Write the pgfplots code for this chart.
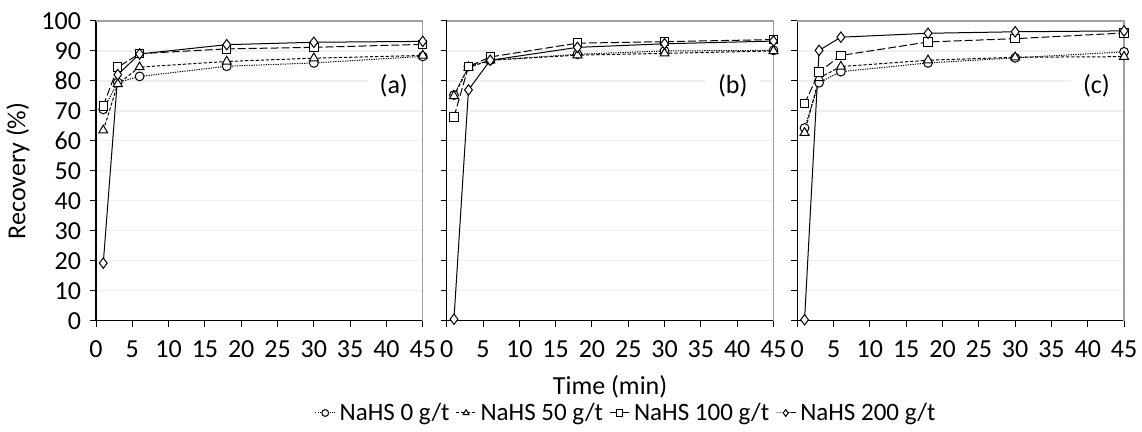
\documentclass[border=0pt]{standalone}
\usepackage{fontspec}
\setmainfont{Carlito}
\usepackage{pgfplots}
\pgfplotsset{compat=1.18}
\tikzset{pframe/.style={gray!75, line width=0.6pt}}
\begin{document}
\begin{tikzpicture}[font=\fontsize{13}{15}\selectfont]
\path[use as bounding box] (0,0) rectangle (571pt,216pt);
\pgfplotsset{
  panel/.style={
    scale only axis, width=163.4pt, height=149.85pt,
    anchor=south west,
    xmin=0, xmax=45, ymin=0, ymax=100,
    xtick={0,5,...,45}, ytick={0,10,...,100},
    axis x line*=bottom, axis y line*=left,
    axis line style={black, line width=0.6pt},
    tick align=outside, major tick length=3pt,
    tick style={black, line width=0.5pt},
    ymajorgrids, grid style={gray!12, line width=0.6pt},
    /pgf/number format/assume math mode=true,
    xticklabel style={yshift=-3.5pt},
    yticklabel style={xshift=-1pt},
    clip=false,
    legend image code/.code={\draw[mark repeat=2,mark phase=2,mark size=1.7pt] plot coordinates {(0pt,0pt) (5pt,0pt) (10pt,0pt)};},
  },
  s0/.style={black, line width=0.5pt, dash pattern=on 0.6pt off 0.6pt, mark=*, mark size=2.2pt, mark options={solid, fill=white, draw=black}},
  s1/.style={black, line width=0.5pt, dash pattern=on 1.6pt off 1pt, mark=triangle*, mark size=2.6pt, mark options={solid, fill=white, draw=black}},
  s2/.style={black, line width=0.5pt, dash pattern=on 4pt off 1.5pt, mark=square*, mark size=2.1pt, mark options={solid, fill=white, draw=black}},
  s3/.style={black, line width=0.5pt, solid, mark=diamond*, mark size=2.6pt, mark options={solid, fill=white, draw=black}},
}
% panel (a)
\begin{axis}[panel, at={(48pt,55.65pt)},
  ylabel={Recovery (\%)}, ylabel style={at={(rel axis cs:-0.239,0.5)}, anchor=center}]
\draw[pframe] (rel axis cs:0,1) -- (rel axis cs:1,1) -- (rel axis cs:1,0);
\node[fill=white, inner xsep=6pt, inner ysep=2pt] at (axis cs:41,78.4) {(a)};
\addplot[s0] coordinates {(1,70.5) (3,79.5) (6,81.5) (18,84.9) (30,86.0) (45,88.2)};
\addplot[s1] coordinates {(1,63.5) (3,79.0) (6,84.6) (18,86.5) (30,87.6) (45,88.5)};
\addplot[s2] coordinates {(1,71.7) (3,84.6) (6,89.1) (18,90.7) (30,91.2) (45,92.2)};
\addplot[s3] coordinates {(1,19.2) (3,82.1) (6,89.0) (18,92.1) (30,92.9) (45,93.2)};
\end{axis}
% panel (b)
\begin{axis}[panel, at={(223.35pt,55.65pt)}, yticklabels={},
  xlabel={Time (min)}, xlabel style={at={(rel axis cs:0.5,-0.222)}, anchor=center},
  legend columns=4,
  legend style={at={(rel axis cs:0.552,-0.308)}, anchor=center, draw=none, fill=none,
    inner sep=0pt, font=\fontsize{12.5}{14}\selectfont,
    /tikz/every even column/.append style={column sep=1pt},
    legend cell align=left}]
\draw[pframe] (rel axis cs:0,1) -- (rel axis cs:1,1) -- (rel axis cs:1,0);
\node[fill=white, inner xsep=6pt, inner ysep=2pt] at (axis cs:39.4,78.4) {(b)};
\addplot[s0] coordinates {(1,75.3) (3,84.8) (6,86.9) (18,88.9) (30,90.0) (45,90.2)};
\addplot[s1] coordinates {(1,75.0) (3,84.5) (6,86.9) (18,88.6) (30,89.2) (45,90.0)};
\addplot[s2] coordinates {(1,68.0) (3,84.8) (6,88.0) (18,92.6) (30,93.1) (45,93.8)};
\addplot[s3] coordinates {(1,0.5) (3,77.0) (6,86.9) (18,91.2) (30,92.4) (45,93.3)};
\legend{NaHS 0 g/t, NaHS 50 g/t, NaHS 100 g/t, NaHS 200 g/t}
\end{axis}
% panel (c)
\begin{axis}[panel, at={(398.65pt,55.65pt)}, yticklabels={}]
\draw[pframe] (rel axis cs:0,1) -- (rel axis cs:1,1) -- (rel axis cs:1,0);
\node[fill=white, inner xsep=6pt, inner ysep=2pt] at (axis cs:41.2,78.4) {(c)};
\addplot[s0] coordinates {(1,64.3) (3,79.4) (6,83.1) (18,86.0) (30,87.7) (45,89.7)};
\addplot[s1] coordinates {(1,62.7) (3,81.0) (6,84.8) (18,86.9) (30,87.9) (45,88.1)};
\addplot[s2] coordinates {(1,72.4) (3,83.0) (6,88.5) (18,93.0) (30,94.1) (45,96.0)};
\addplot[s3] coordinates {(1,0.3) (3,90.2) (6,94.6) (18,95.9) (30,96.4) (45,96.7)};
\end{axis}
\end{tikzpicture}
\end{document}
